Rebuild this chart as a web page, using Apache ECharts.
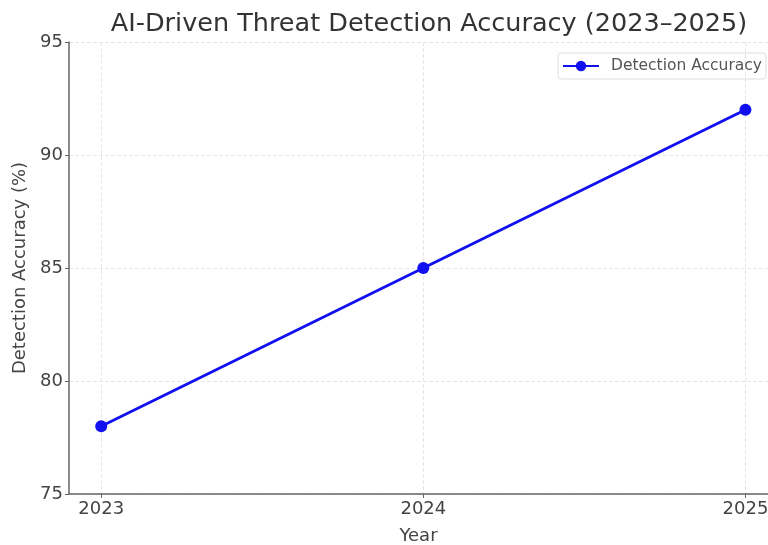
<!DOCTYPE html>
<html>
<head>
  <meta charset="UTF-8" />
  <title>AI-Driven Threat Detection Accuracy</title>
  <script src="https://cdn.jsdelivr.net/npm/echarts@6/dist/echarts.min.js"></script>
  <style>
    html, body { margin: 0; padding: 0; background: #fff; }
    #chart { width: 768px; height: 545px; }
  </style>
</head>
<body>
  <div id="chart"></div>
  <script>
    const years = [2023, 2024, 2025];
    const accuracy = [78, 85, 92];
    const seriesName = 'Detection Accuracy';

    const chart = echarts.init(document.getElementById('chart'));
    const font = 'DejaVu Sans';

    chart.setOption({
      animation: false,
      title: {
        text: 'AI-Driven Threat Detection Accuracy (2023–2025)',
        left: 424, top: 6, textAlign: 'center',
        textStyle: { fontFamily: font, fontSize: 25.5, fontWeight: 'normal', color: '#333' }
      },
      legend: {
        left: 558, top: 53,
        data: [seriesName],
        itemWidth: 36, itemHeight: 13, itemGap: 10,
        padding: [5, 4],
        borderColor: '#ddd', borderWidth: 1, borderRadius: 3,
        textStyle: { fontFamily: font, fontSize: 15.5, color: '#555', padding: [0, 0, 0, 7] }
      },
      grid: { left: 69, top: 42, right: 0, bottom: 51, outerBoundsMode: 'none', containLabel: false },
      xAxis: {
        type: 'value',
        min: 2022.9, max: 2025.07,
        name: 'Year', nameLocation: 'middle', nameGap: 33,
        nameTextStyle: { fontFamily: font, fontSize: 18, color: '#444' },
        axisLine: { lineStyle: { color: '#666', width: 1.5 } },
        axisTick: { customValues: years, length: 4, lineStyle: { color: '#666' } },
        axisLabel: { customValues: years, fontFamily: font, fontSize: 18, color: '#444', margin: 6, formatter: v => String(v) },
        splitLine: { show: true, lineStyle: { color: '#e6e6e6', type: 'dashed' } }
      },
      yAxis: {
        type: 'value',
        min: 75, max: 95, interval: 5,
        name: 'Detection Accuracy (%)', nameLocation: 'middle', nameGap: 39,
        nameTextStyle: { fontFamily: font, fontSize: 18, color: '#444' },
        axisLine: { show: true, lineStyle: { color: '#666', width: 1.5 } },
        axisTick: { show: true, length: 4, lineStyle: { color: '#666' } },
        axisLabel: { fontFamily: font, fontSize: 18, color: '#444', margin: 6 },
        splitLine: { show: true, lineStyle: { color: '#e6e6e6', type: 'dashed' } }
      },
      series: [{
        name: seriesName,
        type: 'line',
        data: years.map((y, i) => [y, accuracy[i]]),
        symbol: 'circle',
        symbolSize: 12,
        lineStyle: { color: '#1010f0', width: 2.8 },
        itemStyle: { color: '#1010f0' }
      }]
    });
  </script>
</body>
</html>
